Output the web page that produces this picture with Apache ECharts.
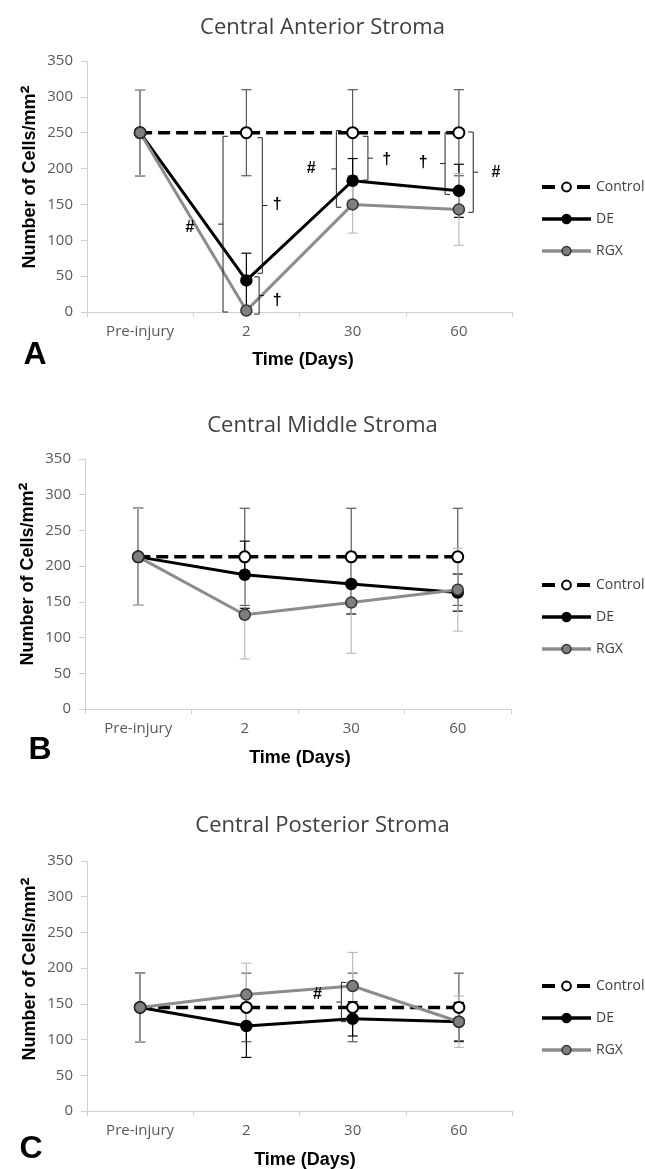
<!DOCTYPE html>
<html><head><meta charset="utf-8">
<script src="https://cdn.jsdelivr.net/npm/echarts@6/dist/echarts.min.js"></script>
<style>html,body{margin:0;padding:0;background:#fff}#c{width:645px;height:1169px}</style>
</head><body><div id="c"></div>
<script>
// ---------- data ----------
const categories = ['Pre-injury', '2', '30', '60'];
const seriesNames = ['Control', 'DE', 'RGX'];
const panelTitles = ['Central Anterior Stroma', 'Central Middle Stroma', 'Central Posterior Stroma'];
const panelLetters = ['A', 'B', 'C'];
const yTickValues = [0, 50, 100, 150, 200, 250, 300, 350];
const xAxisTitle = 'Time (Days)';
const yAxisTitle = 'Number of Cells/mm';

// Panel A – Central Anterior Stroma
const aControl = [250, 250, 250, 250];
const aControlErr = [60, 60, 60, 60];
const aDE = [250, 44, 183, 169];
const aDEErr = [60, 38, 31, 37];
const aRGX = [250, 2, 150, 143];
const aRGXErr = [60, 3, 40, 50];

// Panel B – Central Middle Stroma
const bControl = [213, 213, 213, 213];
const bControlErr = [68, 68, 68, 68];
const bDE = [213, 188, 175, 163];
const bDEErr = [68, 47, 42, 26];
const bRGX = [213, 132, 149, 167];
const bRGXErr = [68, 62, 71, 58];

// Panel C – Central Posterior Stroma
const cControl = [145, 145, 145, 145];
const cControlErr = [48, 48, 48, 48];
const cDE = [145, 119, 129, 125];
const cDEErr = [48, 44, 24, 27];
const cRGX = [145, 163, 175, 125];
const cRGXErr = [48, 44, 47, 36];

// significance brackets: [category, from, to, symbol, labelValue]
const aBrackets = [
  [1, 245, 0, '#', 118],
  [1, 243, 54, '†', 150],
  [1, 49, -3, '†', 16],
  [2, 253, 146, '#', 200],
  [2, 245, 184, '†', 212],
  [3, 250, 164, '†', 209],
  [3, 251, 139, '#', 194]
];
const bBrackets = [];
const cBrackets = [
  [2, 180, 125, '#', 163]
];

// ---------- layout / style (not data) ----------
// bracket horizontal placement in band units: [barOffset, direction(+1 '[', -1 ']'), labelOffset]
const aBracketPlace = [
  [-0.22, 1, -0.53], [0.15, -1, 0.29], [0.12, -1, 0.29],
  [-0.153, 1, -0.39], [0.144, -1, 0.32], [-0.13, 1, -0.335], [0.135, -1, 0.35]
];
const cBracketPlace = [[-0.106, 1, -0.33]];

const grids = [
  {left: 87, top: 61, width: 425, height: 251},
  {left: 85, top: 459, width: 426, height: 250},
  {left: 87, top: 861, width: 425, height: 250}
];
const titleTops = [12, 410, 810];
const legendTops = [180, 578, 979];
const letterPos = [[35, 355], [40, 750], [31, 1149]];
const xNamePos = [[303, 360], [300, 758], [305, 1160]];
const yNamePos = [[30, 177], [28, 574], [30, 969]];

const panels = [
  {vals: [aControl, aDE, aRGX], errs: [aControlErr, aDEErr, aRGXErr], br: aBrackets, place: aBracketPlace},
  {vals: [bControl, bDE, bRGX], errs: [bControlErr, bDEErr, bRGXErr], br: bBrackets, place: []},
  {vals: [cControl, cDE, cRGX], errs: [cControlErr, cDEErr, cRGXErr], br: cBrackets, place: cBracketPlace}
];

const lineStyles = [
  {lineStyle: {color: '#000', width: 3.5, type: [12, 6]}, itemStyle: {color: '#fff', borderColor: '#000', borderWidth: 2}},
  {lineStyle: {color: '#000', width: 3}, itemStyle: {color: '#000', borderColor: '#000', borderWidth: 1.5}},
  {lineStyle: {color: '#8c8c8c', width: 3}, itemStyle: {color: '#7f7f7f', borderColor: '#333', borderWidth: 1.5}}
];
const legendLineStyles = [
  {color: '#000', width: 4, type: [13, 22]},
  {color: '#000', width: 3.5},
  {color: '#8c8c8c', width: 3.5}
];
const errColors = ['#595959', '#000', '#bdbdbd'];

const chart = echarts.init(document.getElementById('c'), null, {renderer: 'canvas'});

const option = {
  animation: false,
  backgroundColor: '#fff',
  title: [], legend: [], grid: [], xAxis: [], yAxis: [], series: [], graphic: []
};

panels.forEach((p, pi) => {
  option.grid.push(Object.assign({containLabel: false}, grids[pi]));
  option.title.push({
    text: panelTitles[pi], left: 'center', top: titleTops[pi],
    textStyle: {fontFamily: 'Open Sans', fontSize: 22, fontWeight: 'normal', color: '#404040'}
  });
  option.legend.push({
    data: seriesNames.map((n, si) => ({
      name: n,
      lineStyle: legendLineStyles[si],
      itemStyle: JSON.parse(JSON.stringify(lineStyles[si].itemStyle))
    })),
    orient: 'vertical', left: 540, top: legendTops[pi], padding: 0,
    itemWidth: 49, itemHeight: 11, itemGap: 18,
    textStyle: {fontFamily: 'Open Sans', fontSize: 14, color: '#404040'},
    selectedMode: false
  });
  option.xAxis.push({
    type: 'category', gridIndex: pi, data: categories, boundaryGap: true,
    axisLine: {lineStyle: {color: '#d0d0d0', width: 1}},
    axisTick: {show: true, length: 5, lineStyle: {color: '#d0d0d0'}},
    axisLabel: {fontFamily: 'Open Sans', fontSize: 15, color: '#595959', margin: 12},
    splitLine: {show: false}
  });
  option.yAxis.push({
    type: 'value', gridIndex: pi,
    min: yTickValues[0], max: yTickValues[yTickValues.length - 1], interval: yTickValues[1] - yTickValues[0],
    axisLine: {show: true, lineStyle: {color: '#d0d0d0', width: 1}},
    axisTick: {show: true, length: 6, lineStyle: {color: '#d0d0d0'}},
    axisLabel: {fontFamily: 'Open Sans', fontSize: 15, color: '#595959', margin: 14},
    splitLine: {show: false}
  });

  // error bars
  p.vals.forEach((vals, si) => {
    const errs = p.errs[si];
    option.series.push({
      type: 'custom', xAxisIndex: pi, yAxisIndex: pi, z: 1 + si * 0.1,
      silent: true,
      data: vals.map((v, i) => [i, v, errs[i]]),
      encode: {x: 0, y: 1},
      renderItem: (params, api) => {
        const x = api.value(0), v = api.value(1), e = api.value(2);
        const top = api.coord([x, Math.min(350, v + e)]);
        const bot = api.coord([x, Math.max(0, v - e)]);
        const hw = 5;
        const st = {stroke: errColors[si], lineWidth: 1.2};
        return {type: 'group', children: [
          {type: 'line', shape: {x1: top[0], y1: top[1], x2: bot[0], y2: bot[1]}, style: st},
          {type: 'line', shape: {x1: top[0] - hw, y1: top[1], x2: top[0] + hw, y2: top[1]}, style: st},
          {type: 'line', shape: {x1: bot[0] - hw, y1: bot[1], x2: bot[0] + hw, y2: bot[1]}, style: st}
        ]};
      }
    });
  });

  // lines
  p.vals.forEach((vals, si) => {
    option.series.push(Object.assign({
      name: seriesNames[si], type: 'line', xAxisIndex: pi, yAxisIndex: pi,
      data: vals, symbol: 'circle', symbolSize: 11, showAllSymbol: true, z: 3,
      emphasis: {disabled: true}
    }, JSON.parse(JSON.stringify(lineStyles[si]))));
  });

  // significance brackets
  if (p.br.length) {
    option.series.push({
      type: 'custom', xAxisIndex: pi, yAxisIndex: pi, z: 5, silent: true, clip: false,
      data: p.br.map(b => [b[0], b[1], b[2], b[4]]),
      encode: {x: 0, y: 1},
      renderItem: (params, api) => {
        const b = p.br[params.dataIndex];
        const pl = p.place[params.dataIndex];
        const band = api.size([1, 0])[0];
        const c1 = api.coord([b[0], b[1]]);
        const c2 = api.coord([b[0], b[2]]);
        const x = c1[0] + pl[0] * band;
        const dir = pl[1];
        const ym = (c1[1] + c2[1]) / 2;
        const tl = 5;
        const st = {stroke: '#222', lineWidth: 1};
        const lc = api.coord([b[0], b[4]]);
        return {type: 'group', children: [
          {type: 'line', shape: {x1: x, y1: c1[1], x2: x, y2: c2[1]}, style: st},
          {type: 'line', shape: {x1: x, y1: c1[1], x2: x + dir * tl, y2: c1[1]}, style: st},
          {type: 'line', shape: {x1: x, y1: c2[1], x2: x + dir * tl, y2: c2[1]}, style: st},
          {type: 'line', shape: {x1: x, y1: ym, x2: x - dir * tl, y2: ym}, style: st},
          {type: 'text', x: lc[0] + pl[2] * band, y: lc[1],
           style: {text: b[3], fill: '#000', font: 'bold 16px "Liberation Sans"', align: 'center', verticalAlign: 'middle'}}
        ]};
      }
    });
  }

  // letters, axis names
  option.graphic.push({
    type: 'text', x: letterPos[pi][0], y: letterPos[pi][1],
    style: {text: panelLetters[pi], font: 'bold 32px "Liberation Sans"', fill: '#000', align: 'center', verticalAlign: 'middle'}
  });
  option.graphic.push({
    type: 'text', x: xNamePos[pi][0], y: xNamePos[pi][1],
    style: {text: xAxisTitle, font: 'bold 18px "Liberation Sans"', fill: '#000', align: 'center', verticalAlign: 'middle'}
  });
  option.graphic.push({
    type: 'text', x: yNamePos[pi][0], y: yNamePos[pi][1], rotation: Math.PI / 2,
    style: {
      text: '{a|' + yAxisTitle + '}{s|²}',
      rich: {
        a: {font: 'bold 18px "Liberation Sans"', fill: '#000'},
        s: {font: 'bold 24px "Liberation Sans"', fill: '#000'}
      },
      align: 'center', verticalAlign: 'middle'
    }
  });
});

chart.setOption(option);
</script>
</body></html>
